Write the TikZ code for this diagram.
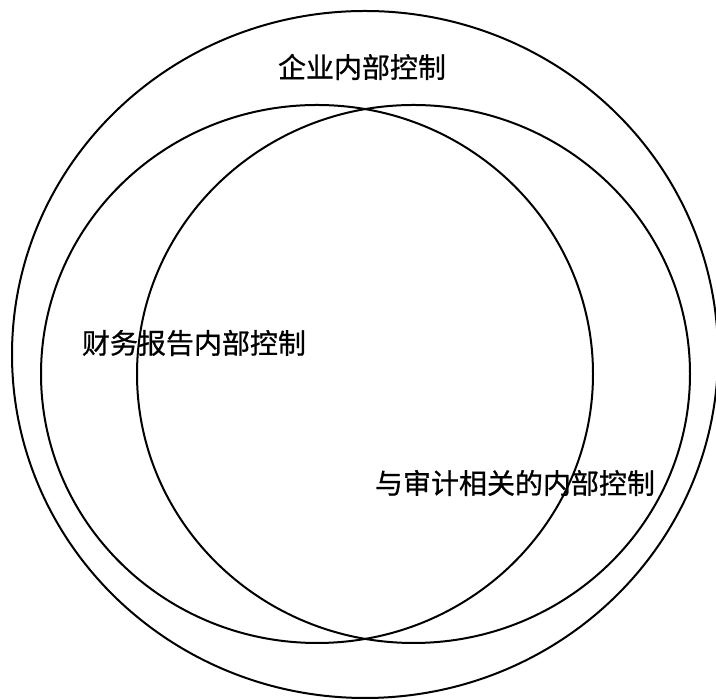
\documentclass[tikz,border=0pt]{standalone}
\usepackage{fontspec}
\newfontfamily\cjk[FakeBold=0.8]{Noto Sans CJK SC}
\usetikzlibrary{positioning}

\begin{document}
\begin{tikzpicture}[x=1pt,y=1pt,line width=2.0pt]
\providecommand{\flabel}{\fontsize{28}{32}\selectfont\cjk}
\tikzset{ring/.style={draw=black},tag/.style={inner sep=0pt,font=\flabel}}
\useasboundingbox (0.0,0.0) rectangle (716.0,700.0);
\draw[ring] (365.0,345.5) ellipse [x radius=353.0,y radius=343.5];
\draw[ring] (317.0,326.0) ellipse [x radius=276.0,y radius=269.0];
\draw[ring] (413.5,326.0) ellipse [x radius=276.5,y radius=269.0];
\node[tag] (qiye) at (362.0,633.0) {企业内部控制};
\node[tag,anchor=west] (caiwu) at (81.0,357.0) {财务报告内部控制};
\node[tag,anchor=west] (shenji) at (374.0,217.0) {与审计相关的内部控制};
\end{tikzpicture}
\end{document}
